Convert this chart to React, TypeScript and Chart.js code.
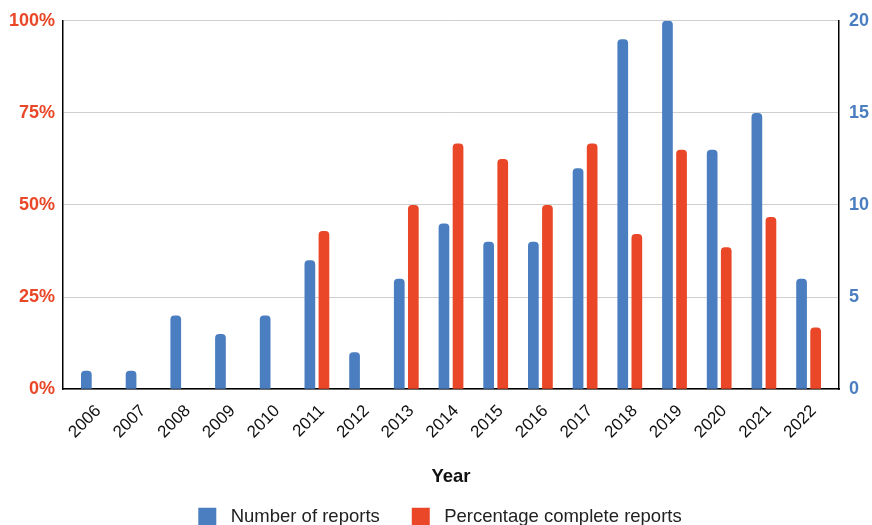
import React, { useEffect, useRef } from "react";
import { Chart, registerables } from "chart.js";

Chart.register(...registerables);

const years = ["2006", "2007", "2008", "2009", "2010", "2011", "2012", "2013", "2014", "2015", "2016", "2017", "2018", "2019", "2020", "2021", "2022"];
const numberOfReports = [1, 1, 4, 3, 4, 7, 2, 6, 9, 8, 8, 12, 19, 20, 13, 15, 6];
const percentComplete = [0, 0, 0, 0, 0, 42.9, 0, 50, 66.7, 62.5, 50, 66.7, 42.1, 65, 38.5, 46.7, 16.7];
const percentTicks = [0, 25, 50, 75, 100];
const countTicks = [0, 5, 10, 15, 20];

const BLUE = "#4a7ec0";
const RED = "#e94727";
const FONT = "'Liberation Sans', Arial, sans-serif";

export default function App() {
  const ref = useRef<HTMLCanvasElement | null>(null);

  useEffect(() => {
    if (!ref.current) return;
    const chart = new Chart(ref.current, {
      type: "bar",
      data: {
        labels: years,
        datasets: [
          {
            label: "Number of reports",
            data: numberOfReports,
            backgroundColor: BLUE,
            yAxisID: "yCount",
            borderRadius: 4,
            borderSkipped: "start",
            categoryPercentage: 0.63,
            barPercentage: 0.76,
          },
          {
            label: "Percentage complete reports",
            data: percentComplete,
            backgroundColor: RED,
            yAxisID: "yPct",
            borderRadius: 4,
            borderSkipped: "start",
            categoryPercentage: 0.63,
            barPercentage: 0.76,
          },
        ],
      },
      options: {
        animation: false,
        responsive: false,
        maintainAspectRatio: false,
        layout: { padding: { top: 20, left: 8, right: 0, bottom: 4 } },
        plugins: {
          tooltip: { enabled: false },
          legend: {
            position: "bottom",
            labels: {
              boxWidth: 18,
              boxHeight: 18,
              padding: 32,
              color: "#222",
              font: { family: FONT, size: 18.5 },
              generateLabels: (c: any) =>
                Chart.defaults.plugins.legend.labels.generateLabels(c).map((l: any) => ({ ...l, text: " " + l.text })),
            },
          },
        },
        scales: {
          x: {
            afterBuildTicks: (scale: any) => {
              const pad = 0.18;
              scale._startValue = -0.5 - pad;
              scale._valueRange = years.length + 2 * pad;
            },
            grid: { display: false, drawTicks: false },
            border: { display: true, color: "#000", width: 1.5 },
            ticks: {
              color: "#111",
              font: { family: FONT, size: 17 },
              minRotation: 45,
              maxRotation: 45,
              padding: 12,
              labelOffset: 5,
              autoSkip: false,
            },
            title: {
              display: true,
              text: "Year",
              color: "#111",
              font: { family: FONT, size: 18.5, weight: "bold" },
              padding: { top: 12, bottom: -13 },
            },
          },
          yPct: {
            position: "left",
            min: 0,
            max: 100,
            afterBuildTicks: (scale: any) => {
              scale.ticks = percentTicks.map((v) => ({ value: v }));
            },
            afterFit: (scale: any) => {
              scale.width = 55;
            },
            grid: { color: "#cfcfcf", lineWidth: 1, drawTicks: false },
            border: { display: true, color: "#000", width: 1.5 },
            ticks: {
              color: RED,
              padding: 8,
              font: { family: FONT, size: 18, weight: "bold" },
              callback: (v: any) => v + "%",
            },
          },
          yCount: {
            position: "right",
            min: 0,
            max: 20,
            afterBuildTicks: (scale: any) => {
              scale.ticks = countTicks.map((v) => ({ value: v }));
            },
            afterFit: (scale: any) => {
              scale.width = 33;
            },
            grid: { drawOnChartArea: false, drawTicks: false },
            border: { display: true, color: "#000", width: 1.5 },
            ticks: {
              color: BLUE,
              padding: 10,
              font: { family: FONT, size: 18, weight: "bold" },
            },
          },
        },
      },
    });
    return () => chart.destroy();
  }, []);

  return (
    <div style={{ position: "fixed", left: 0, top: 0, width: 872, height: 525, overflow: "hidden", background: "#fff" }}>
      <canvas ref={ref} width={872} height={540} style={{ display: "block" }} />
    </div>
  );
}
